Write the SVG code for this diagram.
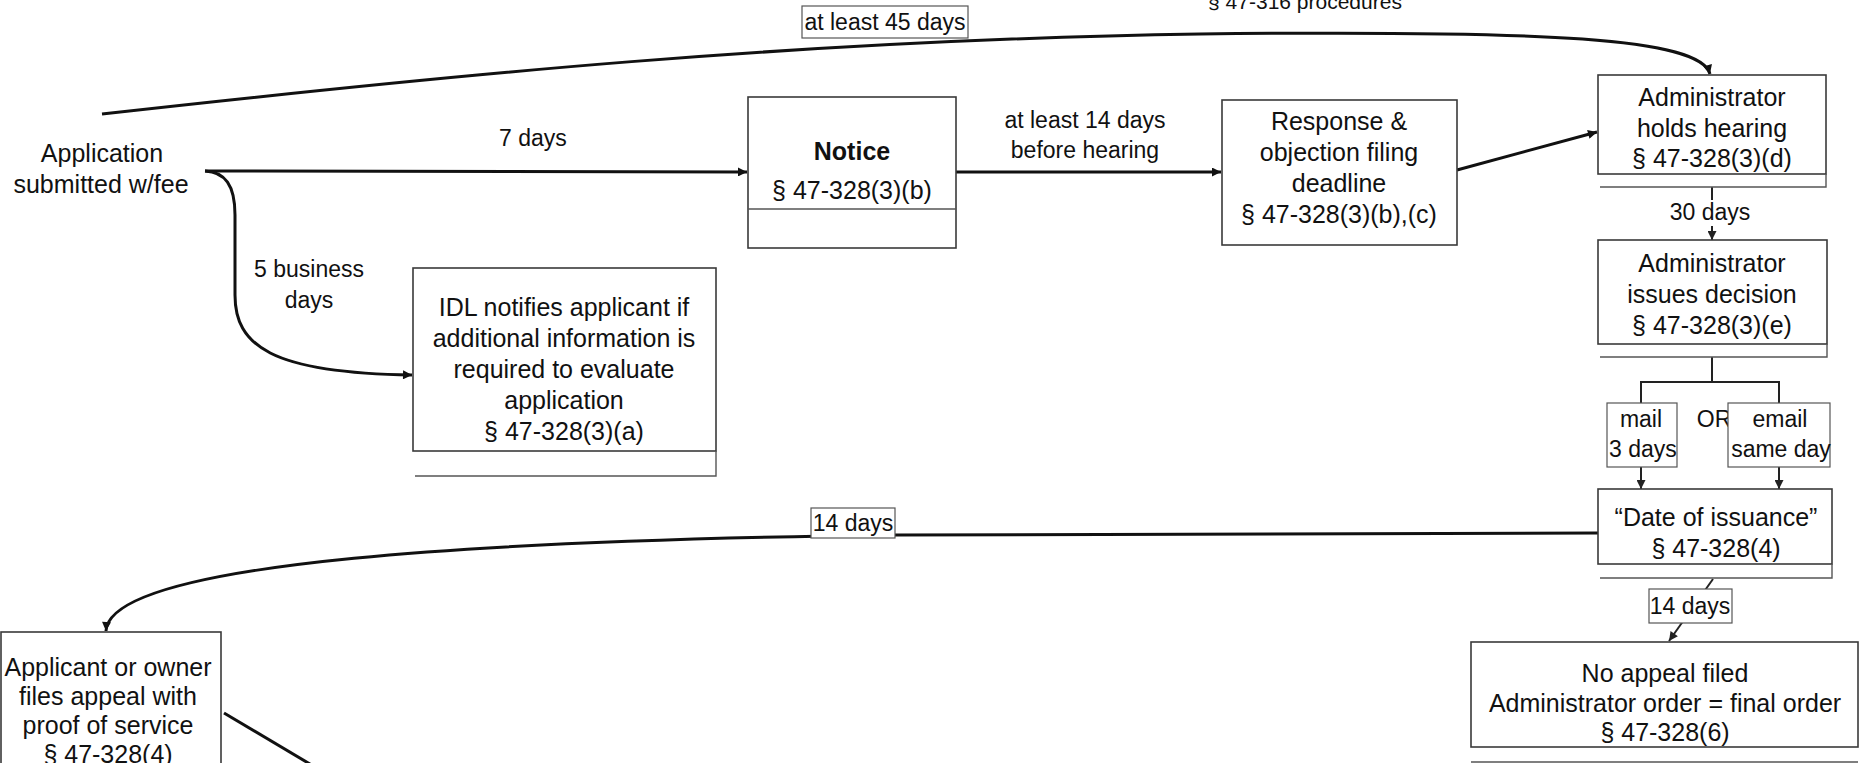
<svg xmlns="http://www.w3.org/2000/svg" width="1860" height="763" viewBox="0 0 1860 763">
<style>
text{font-family:"Liberation Sans",Arial,sans-serif;fill:#111;text-anchor:middle}
.n{font-size:25px}
.l{font-size:23px}
.box{fill:#fff;stroke:#3a3a3a;stroke-width:1.6}
.strip{fill:none;stroke:#555;stroke-width:1.4}
.lbl{fill:#fff;stroke:#555;stroke-width:1.2}
.c{fill:none;stroke:#111;stroke-width:3}
.ca{fill:none;stroke:#111;stroke-width:3;marker-end:url(#ah)}
.cs{fill:none;stroke:#222;stroke-width:2}
.csa{fill:none;stroke:#222;stroke-width:2;marker-end:url(#ah2)}
</style>
<defs>
<marker id="ah" viewBox="0 0 10 10" refX="10" refY="5" markerWidth="10" markerHeight="9" markerUnits="userSpaceOnUse" orient="auto"><path d="M0,0 L10,5 L0,10 z" fill="#111"/></marker>
<marker id="ah2" viewBox="0 0 10 10" refX="10" refY="5" markerWidth="10" markerHeight="9" markerUnits="userSpaceOnUse" orient="auto"><path d="M0,0 L10,5 L0,10 z" fill="#222"/></marker>
</defs>
<rect width="1860" height="763" fill="#fff"/>

<g id="connectors">
<path class="ca" d="M102,114 C450,75 800,40 1200,34 C1550,30 1700,38 1710,74"/>
<path class="ca" d="M205,171 L747,172"/>
<path class="ca" d="M205,171 C225,172 235,185 235,215 L235,295 C235,345 270,373 412,375"/>
<path class="ca" d="M956,172 L1221,172"/>
<path class="ca" d="M1457,170 L1597,132"/>
<path class="cs" d="M1712,187 V200"/>
<path class="csa" d="M1712,226 V240"/>
<path class="cs" d="M1712,357 V382 M1641,403 V382 H1779 V403"/>
<path class="csa" d="M1641,467 V489"/>
<path class="csa" d="M1779,467 V489"/>
<path class="ca" d="M1598,533 L896,535 C500,540 110,560 106,631"/>
<path class="csa" d="M1713,579 L1669,641"/>
<path class="c" d="M224,713 L320,770"/>
</g>

<g id="label-45days">
<rect class="lbl" x="802" y="6" width="166" height="32"/>
<text class="l" x="885" y="30">at least 45 days</text>
</g>
<g id="label-316">
<text x="1305" y="9" style="font-size:21px">§ 47-316 procedures</text>
</g>

<g id="application">
<text class="n" x="102" y="162">Application</text>
<text class="n" x="101" y="193">submitted w/fee</text>
</g>

<g id="label-7days"><text class="l" x="533" y="146">7 days</text></g>
<g id="label-5days">
<text class="l" x="309" y="277">5 business</text>
<text class="l" x="309" y="308">days</text>
</g>
<g id="label-14before">
<text class="l" x="1085" y="128">at least 14 days</text>
<text class="l" x="1085" y="158">before hearing</text>
</g>

<g id="notice">
<rect class="box" x="748" y="97" width="208" height="151"/>
<line class="strip" x1="748" y1="209" x2="956" y2="209"/>
<text class="n" x="852" y="160" style="font-weight:bold">Notice</text>
<text class="n" x="852" y="199">§ 47-328(3)(b)</text>
</g>

<g id="idl">
<rect class="box" x="413" y="268" width="303" height="183"/>
<path class="strip" d="M716,451 V476 H415"/>
<text class="n" x="564" y="316">IDL notifies applicant if</text>
<text class="n" x="564" y="347">additional information is</text>
<text class="n" x="564" y="378">required to evaluate</text>
<text class="n" x="564" y="409">application</text>
<text class="n" x="564" y="440">§ 47-328(3)(a)</text>
</g>

<g id="response">
<rect class="box" x="1222" y="100" width="235" height="145"/>
<text class="n" x="1339" y="130">Response &amp;</text>
<text class="n" x="1339" y="161">objection filing</text>
<text class="n" x="1339" y="192">deadline</text>
<text class="n" x="1339" y="223">§ 47-328(3)(b),(c)</text>
</g>

<g id="hearing">
<rect class="box" x="1598" y="75" width="228" height="99"/>
<path class="strip" d="M1826,174 V187 H1600"/>
<text class="n" x="1712" y="106">Administrator</text>
<text class="n" x="1712" y="137">holds hearing</text>
<text class="n" x="1712" y="167">§ 47-328(3)(d)</text>
</g>

<g id="label-30days"><text class="l" x="1710" y="220">30 days</text></g>

<g id="decision">
<rect class="box" x="1598" y="240" width="229" height="104"/>
<path class="strip" d="M1827,344 V357 H1600"/>
<text class="n" x="1712" y="272">Administrator</text>
<text class="n" x="1712" y="303">issues decision</text>
<text class="n" x="1712" y="334">§ 47-328(3)(e)</text>
</g>

<g id="mail">
<rect class="lbl" x="1607" y="403" width="70" height="64"/>
<text class="l" x="1641" y="427">mail</text>
<text class="l" x="1643" y="457">3 days</text>
</g>
<g id="or"><text class="l" x="1714" y="427">OR</text></g>
<g id="email">
<rect class="lbl" x="1728" y="403" width="102" height="64"/>
<text class="l" x="1780" y="427">email</text>
<text class="l" x="1781" y="457">same day</text>
</g>

<g id="issuance">
<rect class="box" x="1598" y="489" width="234" height="75"/>
<path class="strip" d="M1832,564 V578 H1600"/>
<text class="n" x="1716" y="526">“Date of issuance”</text>
<text class="n" x="1716" y="557">§ 47-328(4)</text>
</g>

<g id="label-14days-a">
<rect class="lbl" x="811" y="508" width="84" height="30"/>
<text class="l" x="853" y="531">14 days</text>
</g>

<g id="label-14days-b">
<rect class="lbl" x="1649" y="589" width="83" height="34"/>
<text class="l" x="1690" y="614">14 days</text>
</g>

<g id="noappeal">
<rect class="box" x="1471" y="642" width="387" height="105"/>
<path class="strip" d="M1471,762 H1858"/>
<text class="n" x="1665" y="682">No appeal filed</text>
<text class="n" x="1665" y="712">Administrator order = final order</text>
<text class="n" x="1665" y="741">§ 47-328(6)</text>
</g>

<g id="appeal">
<rect class="box" x="1" y="632" width="220" height="140"/>
<text class="n" x="108" y="676">Applicant or owner</text>
<text class="n" x="108" y="705">files appeal with</text>
<text class="n" x="108" y="734">proof of service</text>
<text class="n" x="108" y="763">§ 47-328(4)</text>
</g>
</svg>
